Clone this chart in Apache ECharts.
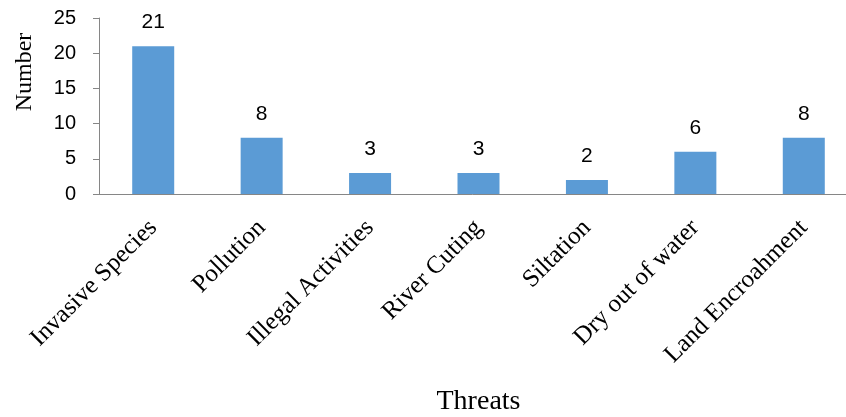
<!DOCTYPE html>
<html>
<head>
<meta charset="utf-8">
<script src="https://cdn.jsdelivr.net/npm/echarts@6/dist/echarts.min.js"></script>
<style>
  html, body { margin: 0; padding: 0; background: #fff; }
  #chart { width: 846px; height: 417px; }
</style>
</head>
<body>
<div id="chart"></div>
<script>
// Threat categories and the number of reports for each
const categories = [
  'Invasive Species', 'Pollution', 'Illegal Activities', 'River Cuting',
  'Siltation', 'Dry out of water', 'Land Encroahment'
];
const counts = [21, 8, 3, 3, 2, 6, 8];
const yTicks = [0, 5, 10, 15, 20, 25];

const axisGray = '#868686';
const serif = '"Liberation Serif", "Times New Roman", serif';
const sans = '"Liberation Sans", Arial, sans-serif';

const chart = echarts.init(document.getElementById('chart'), null, { renderer: 'canvas' });

chart.setOption({
  animation: false,
  backgroundColor: '#ffffff',
  grid: {
    left: 99, right: -12, top: 18, bottom: 223,
    containLabel: false,
    outerBoundsMode: 'none'
  },
  xAxis: {
    type: 'category',
    data: categories,
    name: 'Threats',
    nameLocation: 'middle',
    nameGap: 194,
    nameTextStyle: { fontFamily: serif, fontSize: 28, color: '#000' },
    axisLine: { lineStyle: { color: axisGray, width: 1 } },
    axisTick: { show: false },
    axisLabel: {
      interval: 0,
      rotate: 45,
      margin: 30,
      fontFamily: serif,
      fontSize: 25,
      color: '#000'
    }
  },
  yAxis: {
    type: 'value',
    min: yTicks[0],
    max: yTicks[yTicks.length - 1],
    interval: yTicks[1] - yTicks[0],
    axisLine: { show: true, lineStyle: { color: axisGray, width: 1 } },
    axisTick: { show: true, length: 6, lineStyle: { color: axisGray } },
    splitLine: { show: false },
    axisLabel: {
      margin: 23,
      fontFamily: sans,
      fontSize: 20,
      color: '#000'
    }
  },
  graphic: [{
    type: 'text',
    x: 25,
    y: 72,
    rotation: Math.PI / 2,
    style: {
      text: 'Number',
      fontFamily: serif,
      fontSize: 24,
      fill: '#000',
      align: 'center',
      verticalAlign: 'middle'
    }
  }],
  series: [{
    type: 'bar',
    data: counts,
    barWidth: 42,
    itemStyle: { color: '#5B9BD5' },
    label: {
      show: true,
      position: 'top',
      distance: 13,
      fontFamily: sans,
      fontSize: 21,
      color: '#000'
    }
  }]
});
</script>
</body>
</html>
